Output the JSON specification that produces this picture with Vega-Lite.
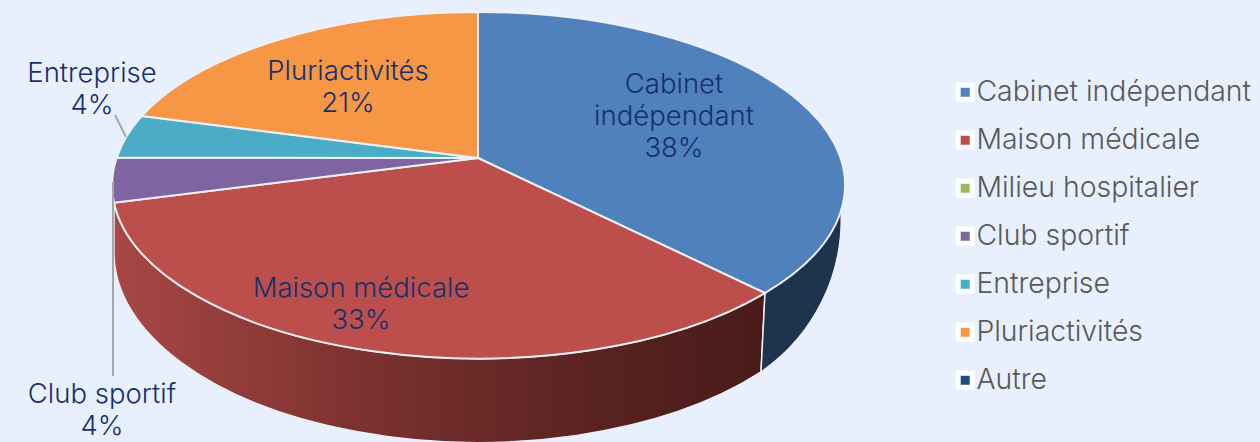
{
"$schema":"https://vega.github.io/schema/vega-lite/v6.json",
"width":1260,"height":442,"padding":0,"autosize":{"type":"none"},
"background":"#e8f0fe",
"view":{"stroke":null},
"datasets":{
"slices":[
{"categorie":"Cabinet indépendant","part":38},
{"categorie":"Maison médicale","part":33},
{"categorie":"Milieu hospitalier","part":0},
{"categorie":"Club sportif","part":4},
{"categorie":"Entreprise","part":4},
{"categorie":"Pluriactivités","part":21},
{"categorie":"Autre","part":0}],
"labels":[
{"texte":"Cabinet\nindépendant\n38%","lx":674,"ly":85},
{"texte":"Maison médicale\n33%","lx":361,"ly":289},
{"texte":"Club sportif\n4%","lx":102,"ly":395},
{"texte":"Entreprise\n4%","lx":92,"ly":74},
{"texte":"Pluriactivités\n21%","lx":348,"ly":72}],
"leaders":[
{"x1":115,"y1":115,"x2":126,"y2":137},
{"x1":113,"y1":182,"x2":113,"y2":376}]
},
"layer":[
{"data":{"name":"slices"},"transform":[{"filter":"datum.categorie==='Maison médicale'"}],
"mark":{"type":"point","filled":true,"opacity":1,"size":4,
"shape":"M-516 -18.3A366 173 0 0 0 135 72L131 151A364 190 0 0 1 -516 31Z",
"fill":{"gradient":"linear","x1":0,"y1":0,"x2":1,"y2":0,"stops":[{"offset":0,"color":"#a84745"},{"offset":0.35,"color":"#7f3330"},{"offset":0.7,"color":"#5c2422"},{"offset":1,"color":"#481b19"}]},
"stroke":"#eef0f6","strokeWidth":1.5},"encoding":{}},
{"data":{"name":"slices"},"transform":[{"filter":"datum.categorie==='Cabinet indépendant'"}],
"mark":{"type":"point","filled":true,"opacity":1,"size":4,
"shape":"M135 72A366 173 0 0 0 211 -11A185 185 0 0 1 131 151Z",
"fill":"#1d334e","stroke":"#eef0f6","strokeWidth":1.5},"encoding":{}},
{"data":{"name":"slices"},"transform":[{"filter":"datum.part>0"}],
"mark":{"type":"point","filled":true,"opacity":1,"size":4,"stroke":"#eef0f6","strokeWidth":2},
"encoding":{
"color":{"field":"categorie","type":"nominal",
"scale":{"domain":["Cabinet indépendant","Maison médicale","Milieu hospitalier","Club sportif","Entreprise","Pluriactivités","Autre"],
"range":["#4f81bd","#bc4f4c","#9bbb59","#8064a2","#4bacc6","#f69745","#1f497d"]},
"legend":{"orient":"none","legendX":951,"legendY":78,"title":null,"symbolType":"square","symbolSize":196,"symbolStrokeWidth":5,"symbolStrokeColor":"white","symbolOpacity":1,"labelFont":"Inter","labelFontSize":28.4,"labelFontWeight":300,"labelColor":"#595959","labelLimit":320,"rowPadding":13,"labelOffset":-3,
"encode":{"symbols":{"update":{"stroke":{"value":"white"},"strokeWidth":{"value":5}}}}}},
"shape":{"field":"categorie","type":"nominal","legend":null,
"scale":{"domain":["Cabinet indépendant","Maison médicale","Club sportif","Entreprise","Pluriactivités"],
"range":["M-152 -63L-152 -209A366 173 0 0 1 135 72Z",
"M-152 -63L135 72A366 173 0 0 1 -516 -18.3Z",
"M-152 -63L-516 -18.3A366 173 0 0 1 -513.3 -63.3Z",
"M-152 -63L-513.3 -63.3A366 173 0 0 1 -488.3 -105Z",
"M-152 -63L-488.3 -105A366 173 0 0 1 -152 -209Z"]}}
}},
{"data":{"name":"leaders"},"mark":{"type":"rule","color":"#a6a6a6","strokeWidth":2},
"encoding":{
"x":{"field":"x1","type":"quantitative","axis":null,"scale":{"domain":[0,1260],"nice":false,"zero":false}},
"y":{"field":"y1","type":"quantitative","axis":null,"scale":{"domain":[442,0],"nice":false,"zero":false}},
"x2":{"field":"x2"},"y2":{"field":"y2"}}},
{"data":{"name":"labels"},"mark":{"type":"text","font":"Inter","fontSize":27.5,"fontWeight":300,"color":"#16306f","lineBreak":"\n","lineHeight":32,"align":"center","baseline":"middle"},
"encoding":{
"x":{"field":"lx","type":"quantitative","axis":null,"scale":{"domain":[0,1260],"nice":false,"zero":false}},
"y":{"field":"ly","type":"quantitative","axis":null,"scale":{"domain":[442,0],"nice":false,"zero":false}},
"text":{"field":"texte","type":"nominal"}}}
]
}
